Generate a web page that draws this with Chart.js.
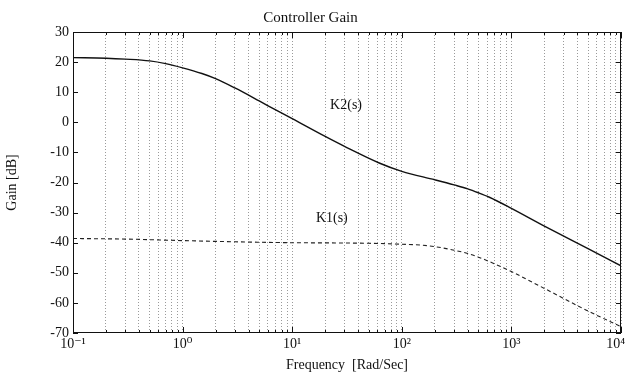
<!DOCTYPE html>
<html>
<head>
<meta charset="utf-8">
<script src="https://cdn.jsdelivr.net/npm/chart.js@4/dist/chart.umd.min.js"></script>
<style>
  body { margin: 0; background: #fff; }
</style>
</head>
<body>
<canvas id="myChart" width="627" height="375"></canvas>
<script>
// Dữ liệu
const freqK2 = [0.1, 0.2, 0.3, 0.5, 0.7, 1, 1.5, 2, 3, 5, 7, 10, 20, 30, 63, 100, 200, 300, 400, 500, 630, 1000, 2000, 5000, 10000];
const gainK2 = [21.5, 21.3, 21.0, 20.4, 19.5, 18.1, 16.2, 14.5, 11.4, 7.1, 4.2, 1.2, -4.7, -8.0, -13.6, -16.3, -19.1, -20.8, -22.1, -23.4, -24.9, -28.6, -34.5, -42.0, -47.7];

const freqK1 = [0.1, 0.3, 1, 3, 10, 30, 50, 100, 150, 200, 300, 400, 500, 700, 1000, 2000, 5000, 10000];
const gainK1 = [-38.6, -38.8, -39.3, -39.7, -40.0, -40.1, -40.2, -40.5, -40.8, -41.3, -42.5, -43.6, -44.8, -47.0, -49.6, -55.2, -62.7, -67.9];

const decadeValues = [0.1, 1, 10, 100, 1000, 10000];
const decadeLabels = ['10⁻¹', '10⁰', '10¹', '10²', '10³', '10⁴   '];

const curveLabels = ['K2(s)', 'K1(s)'];
const curveLabelFreq = [31, 23];
const curveLabelGain = [5.8, -31.9];

// các vạch lưới dọc: 1..9 trong mỗi thập phân
const gridValues = [];
for (let d = 0; d < decadeValues.length - 1; d++) {
  for (let m = 1; m <= 9; m++) gridValues.push(decadeValues[d] * m);
}
gridValues.push(decadeValues[decadeValues.length - 1]);

const serif = '"Liberation Serif", "DejaVu Serif", serif';

// Vẽ khung, vạch chia bên trong và nhãn đường cong
const framePlugin = {
  id: 'frame',
  afterDraw(chart) {
    const c = chart.ctx;
    const a = chart.chartArea;
    const xs = chart.scales.x, ys = chart.scales.y;
    c.save();
    c.strokeStyle = '#111';
    c.lineWidth = 1;
    c.strokeRect(a.left + 0.5, a.top + 0.5, a.right - a.left - 1, a.bottom - a.top - 1);
    c.beginPath();
    ys.ticks.forEach(t => {
      const y = Math.round(ys.getPixelForValue(t.value)) + 0.5;
      c.moveTo(a.left, y); c.lineTo(a.left + 5, y);
      c.moveTo(a.right, y); c.lineTo(a.right - 5, y);
    });
    gridValues.forEach(v => {
      const x = Math.round(xs.getPixelForValue(v)) + 0.5;
      const len = decadeValues.includes(v) ? 6 : 3;
      c.moveTo(x, a.bottom); c.lineTo(x, a.bottom - len);
      c.moveTo(x, a.top); c.lineTo(x, a.top + len);
    });
    c.stroke();
    c.fillStyle = '#111';
    c.font = '14px ' + serif;
    c.textAlign = 'center';
    c.textBaseline = 'middle';
    curveLabels.forEach((s, i) => {
      c.fillText(s, xs.getPixelForValue(curveLabelFreq[i]), ys.getPixelForValue(curveLabelGain[i]));
    });
    c.restore();
  }
};

var ctx = document.getElementById('myChart').getContext('2d');
var myChart = new Chart(ctx, {
  type: 'line',
  data: {
    datasets: [{
      label: 'K2(s)',
      data: freqK2.map((f, i) => ({ x: f, y: gainK2[i] })),
      borderColor: '#111',
      borderWidth: 1.4,
      pointRadius: 0,
      cubicInterpolationMode: 'monotone'
    }, {
      label: 'K1(s)',
      data: freqK1.map((f, i) => ({ x: f, y: gainK1[i] })),
      borderColor: '#222',
      borderWidth: 1.1,
      borderDash: [4, 3],
      pointRadius: 0,
      cubicInterpolationMode: 'monotone'
    }]
  },
  options: {
    responsive: false,
    animation: false,
    events: [],
    layout: { padding: { left: 0, right: 6, top: 0, bottom: 0 } },
    plugins: {
      legend: { display: false },
      tooltip: { enabled: false },
      title: {
        display: true,
        text: 'Controller Gain',
        color: '#111',
        font: { family: serif, size: 15, weight: 'normal' },
        padding: { top: 9, bottom: 5 }
      }
    },
    scales: {
      x: {
        type: 'logarithmic',
        min: 0.1,
        max: 10000,
        afterBuildTicks: s => { s.ticks = gridValues.map(v => ({ value: v })); },
        afterFit: s => { s.height = 42; s.paddingLeft = 0; s.paddingRight = 0; },
        ticks: {
          autoSkip: false,
          maxRotation: 0,
          padding: 3,
          color: '#111',
          font: { family: serif, size: 14 },
          callback: v => {
            const i = decadeValues.indexOf(v);
            return i >= 0 ? decadeLabels[i] : '';
          }
        },
        grid: {
          drawTicks: false,
          color: '#9a9a9a',
          lineWidth: 1
        },
        border: { display: false, dash: [1, 2] },
        title: {
          display: true,
          text: 'Frequency  [Rad/Sec]',
          color: '#111',
          font: { family: serif, size: 14 },
          padding: { top: 0, bottom: 1 }
        }
      },
      y: {
        min: -70,
        max: 30,
        afterFit: s => { s.width = 73; },
        ticks: {
          stepSize: 10,
          padding: 4,
          color: '#111',
          font: { family: serif, size: 14 }
        },
        grid: { display: false, drawTicks: false },
        border: { display: false },
        title: {
          display: true,
          text: 'Gain [dB]',
          color: '#111',
          font: { family: serif, size: 14 },
          padding: { top: 4, bottom: 4 }
        }
      }
    }
  },
  plugins: [framePlugin]
});
</script>
</body>
</html>
